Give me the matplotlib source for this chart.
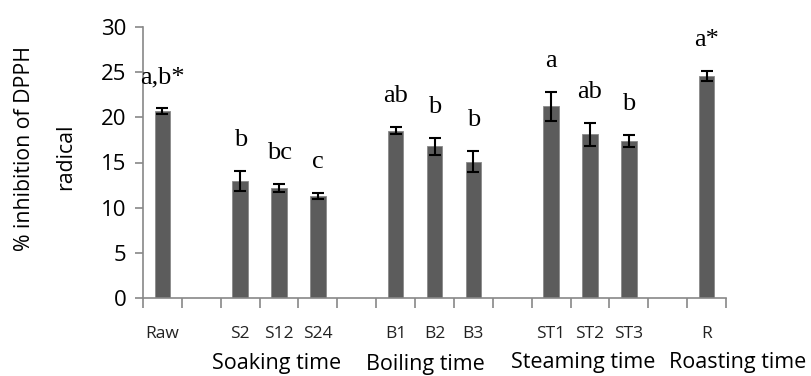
import matplotlib
matplotlib.use("Agg")
import matplotlib.pyplot as plt
import numpy as np

categories = ["Raw", "", "S2", "S12", "S24", "", "B1", "B2", "B3", "", "ST1", "ST2", "ST3", "", "R"]
values = [20.7, np.nan, 13.0, 12.2, 11.3, np.nan, 18.5, 16.8, 15.1, np.nan, 21.2, 18.1, 17.4, np.nan, 24.6]
errors = [0.3, np.nan, 1.1, 0.45, 0.35, np.nan, 0.4, 0.95, 1.15, np.nan, 1.65, 1.3, 0.65, np.nan, 0.55]
letters = ["a,b*", "", "b", "bc", "c", "", "ab", "b", "b", "", "a", "ab", "b", "", "a*"]
groups = ["Soaking time", "Boiling time", "Steaming time", "Roasting time"]
group_pos = [(277, 369), (425, 370), (583, 368), (738, 368)]  # pixel centers (x, baseline y)

W, H = 811, 376
fig = plt.figure(figsize=(W / 100, H / 100), dpi=100)
ax = fig.add_axes([143 / W, 1 - 298 / H, (726 - 143) / W, (298 - 27) / H])

x = np.arange(len(categories)) + 0.5
vals = np.array(values, dtype=float)
errs = np.array(errors, dtype=float)
mask = ~np.isnan(vals)
ax.bar(x[mask], vals[mask], width=0.4, color="#5c5c5c", edgecolor="#8a8a8a", linewidth=0.6, zorder=2)
ax.errorbar(x[mask], vals[mask], yerr=errs[mask], fmt="none", ecolor="black",
            elinewidth=1.5, capsize=4, capthick=1.5, zorder=3)

for xi, v, e, lab in zip(x, vals, errs, letters):
    if lab and not np.isnan(v):
        ax.text(xi, v + e + 2.75, lab, ha="center", va="baseline",
                family="Liberation Serif", fontsize=19, color="black")

ax.set_xlim(0, len(categories))
ax.set_ylim(0, 30)
ax.set_yticks(np.arange(0, 31, 5))
ax.set_xticks(np.arange(0, len(categories) + 1))
ax.set_xticklabels([])
ax.set_xticks(x, minor=True)
ax.set_xticklabels(categories, minor=True, family="Open Sans", fontsize=12.5, color="#222222")
ax.tick_params(axis="x", which="minor", length=0, pad=20)
ax.tick_params(axis="x", which="major", length=7, color="#888888", width=1.2)
ax.tick_params(axis="y", length=6, color="#888888", width=1.2, pad=6)
for t in ax.get_yticklabels():
    t.set_family("Open Sans")
    t.set_fontsize(16)
for s in ["top", "right"]:
    ax.spines[s].set_visible(False)
for s in ["left", "bottom"]:
    ax.spines[s].set_color("#888888")
    ax.spines[s].set_linewidth(1.2)

fig.text(25 / W, 1 - 149 / H, "% inhibition of DPPH", rotation=90, ha="center", va="center",
         family="Open Sans", fontsize=15.3)
fig.text(66 / W, 1 - 157 / H, "radical", rotation=90, ha="center", va="center",
         family="Open Sans", fontsize=15.3)

for g, (gx, gy) in zip(groups, group_pos):
    fig.text(gx / W, 1 - gy / H, g, ha="center", va="baseline", family="Open Sans",
             fontsize=15.5, color="black")

fig.savefig("out.png", dpi=100)
